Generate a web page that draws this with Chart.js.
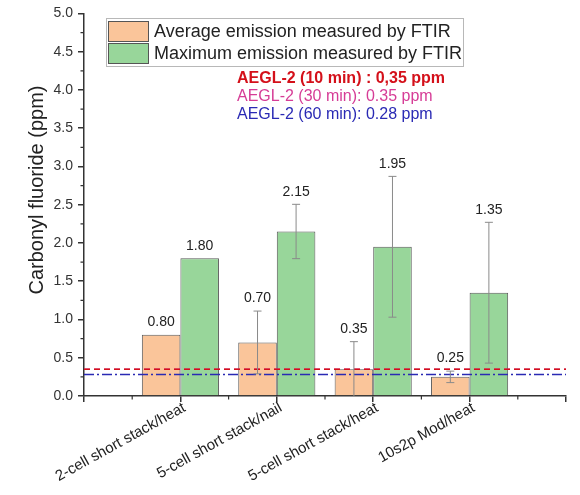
<!DOCTYPE html>
<html>
<head>
<meta charset="utf-8">
<script src="https://cdn.jsdelivr.net/npm/chart.js@4"></script>
<style>
  body { margin: 0; background: #fff; }
  #wrap { width: 580px; height: 495px; }
</style>
</head>
<body>
<div id="wrap"><canvas id="chart" width="580" height="495"></canvas></div>
<script>
// categories (blank slots at both ends, like the Origin axis 0..5)
const categories = ['', '2-cell short stack/heat', '5-cell short stack/nail', '5-cell short stack/heat', '10s2p Mod/heat', ''];

// series values (ppm)
const avgEmission = [null, 0.80, 0.70, 0.35, 0.25, null];
const maxEmission = [null, 1.80, 2.15, 1.95, 1.35, null];

// error bar half widths
const avgError = [0, 0, 0.41, 0.36, 0.075, 0];
const maxError = [0, 0, 0.355, 0.92, 0.92, 0];

// AEGL-2 limits
const aeglLabels = ['AEGL-2 (10 min) : 0,35 ppm', 'AEGL-2 (30 min): 0.35 ppm', 'AEGL-2 (60 min): 0.28 ppm'];
const aeglValues = [0.35, 0.35, 0.28];
const aeglColors = ['#d4101a', '#d63c96', '#2a2ab4'];

// y ticks
const yTicks = [0, 0.5, 1, 1.5, 2, 2.5, 3, 3.5, 4, 4.5, 5];

const yTitle = 'Carbonyl fluoride (ppm)';
const FONT = '"Liberation Sans", Arial, sans-serif';

// AEGL lines, error bars and value labels
const overlayPlugin = {
    id: 'overlay',
    afterDatasetsDraw(chart) {
        const ctx = chart.ctx;
        const area = chart.chartArea;
        const y = chart.scales.y;

        // threshold lines (30 min first, so 10 min sits on top of it)
        const order = [1, 0, 2];
        const dashes = [[6, 4], [6, 4], [10, 3, 2, 3]];
        ctx.save();
        order.forEach(function (i) {
            const py = y.getPixelForValue(aeglValues[i]);
            ctx.strokeStyle = aeglColors[i];
            ctx.lineWidth = 1.5;
            ctx.setLineDash(dashes[i]);
            ctx.beginPath();
            ctx.moveTo(area.left, py);
            ctx.lineTo(area.right, py);
            ctx.stroke();
        });
        ctx.restore();

        // error bars + value labels
        const errs = [avgError, maxError];
        ctx.save();
        chart.data.datasets.forEach(function (ds, d) {
            const meta = chart.getDatasetMeta(d);
            meta.data.forEach(function (bar, i) {
                const v = ds.data[i];
                if (v === null) return;
                const e = errs[d][i];
                let top = y.getPixelForValue(v);
                if (e > 0) {
                    const hi = y.getPixelForValue(v + e);
                    const lo = y.getPixelForValue(Math.max(0, v - e));
                    ctx.strokeStyle = '#8a8a8a';
                    ctx.lineWidth = 1;
                    ctx.setLineDash([]);
                    ctx.beginPath();
                    ctx.moveTo(bar.x, hi);
                    ctx.lineTo(bar.x, lo);
                    ctx.moveTo(bar.x - 4, hi);
                    ctx.lineTo(bar.x + 4, hi);
                    if (v - e > 0) {
                        ctx.moveTo(bar.x - 4, lo);
                        ctx.lineTo(bar.x + 4, lo);
                    }
                    ctx.stroke();
                    top = Math.min(top, hi);
                }
                ctx.fillStyle = '#222';
                ctx.font = '14px ' + FONT;
                ctx.textAlign = 'center';
                ctx.textBaseline = 'middle';
                ctx.fillText(v.toFixed(2), bar.x, top - 12.5);
            });
        });
        ctx.restore();
    },
    afterDraw(chart) {
        const ctx = chart.ctx;
        const area = chart.chartArea;
        const x = chart.scales.x;
        const y = chart.scales.y;

        // AEGL text
        ctx.save();
        ctx.textAlign = 'left';
        ctx.textBaseline = 'middle';
        aeglLabels.forEach(function (t, i) {
            ctx.font = (i === 0 ? 'bold ' : '') + '16px ' + FONT;
            ctx.fillStyle = aeglColors[i];
            ctx.fillText(t, 237, 79 + i * 18);
        });
        ctx.restore();

        // legend
        ctx.save();
        ctx.strokeStyle = '#b8b8b8';
        ctx.lineWidth = 1;
        ctx.strokeRect(106.5, 18.5, 357, 48);
        chart.data.datasets.forEach(function (ds, d) {
            const top = 21 + d * 22;
            ctx.fillStyle = ds.backgroundColor;
            ctx.fillRect(108, top, 40, 20);
            ctx.strokeStyle = '#555';
            ctx.strokeRect(108.5, top + 0.5, 40, 20);
            ctx.fillStyle = '#222';
            ctx.font = '18px ' + FONT;
            ctx.textAlign = 'left';
            ctx.textBaseline = 'middle';
            ctx.fillText(ds.label, 154, top + 11);
        });
        ctx.restore();

        // y axis title
        ctx.save();
        ctx.translate(37, 190);
        ctx.rotate(-Math.PI / 2);
        ctx.fillStyle = '#222';
        ctx.font = '20px ' + FONT;
        ctx.textAlign = 'center';
        ctx.textBaseline = 'middle';
        ctx.fillText(yTitle, 0, 0);
        ctx.restore();

        // minor tick marks (majors come from the scales' grid)
        ctx.save();
        ctx.strokeStyle = '#333';
        ctx.lineWidth = 1.2;
        ctx.setLineDash([]);
        ctx.beginPath();
        for (let i = 0; i < categories.length - 1; i++) {
            const mx = x.getPixelForValue(i + 0.5);
            ctx.moveTo(mx, area.bottom);
            ctx.lineTo(mx, area.bottom + 3.5);
        }
        for (let i = 0; i < yTicks.length - 1; i++) {
            const my = y.getPixelForValue(yTicks[i] + 0.25);
            ctx.moveTo(area.left, my);
            ctx.lineTo(area.left - 3.5, my);
        }
        ctx.stroke();
        ctx.restore();
    }
};

new Chart(document.getElementById('chart'), {
    type: 'bar',
    data: {
        labels: categories,
        datasets: [{
            label: 'Average emission measured by FTIR',
            data: avgEmission,
            backgroundColor: '#fac59a',
            borderColor: '#5a5a5a',
            borderWidth: 1
        }, {
            label: 'Maximum emission measured by FTIR',
            data: maxEmission,
            backgroundColor: '#98d69a',
            borderColor: '#5a5a5a',
            borderWidth: 1
        }]
    },
    options: {
        responsive: false,
        animation: false,
        events: [],
        layout: { padding: { top: 13, right: 14, left: 0, bottom: 0 } },
        plugins: {
            legend: { display: false },
            tooltip: { enabled: false }
        },
        datasets: {
            bar: { categoryPercentage: 0.8, barPercentage: 1.0 }
        },
        scales: {
            x: {
                offset: false,
                grid: {
                    display: true,
                    offset: false,
                    drawOnChartArea: false,
                    drawTicks: true,
                    tickLength: 6,
                    color: '#333',
                    lineWidth: 1.5
                },
                border: { display: true, color: '#333', width: 1.5 },
                ticks: {
                    autoSkip: false,
                    minRotation: 29,
                    maxRotation: 29,
                    padding: -3,
                    labelOffset: 4,
                    color: '#222',
                    font: { family: FONT, size: 15 }
                },
                afterFit: function (s) { s.height = 99; }
            },
            y: {
                min: 0,
                max: 5,
                afterBuildTicks: function (s) {
                    s.ticks = yTicks.map(function (v) { return { value: v }; });
                },
                grid: {
                    display: true,
                    drawOnChartArea: false,
                    drawTicks: true,
                    tickLength: 6,
                    color: '#333',
                    lineWidth: 1.5
                },
                border: { display: true, color: '#333', width: 1.5 },
                ticks: {
                    padding: 5,
                    color: '#333',
                    font: { family: FONT, size: 14 },
                    callback: function (v) { return Number(v).toFixed(1); }
                },
                afterFit: function (s) { s.width = 84; }
            }
        }
    },
    plugins: [overlayPlugin]
});
</script>
</body>
</html>
